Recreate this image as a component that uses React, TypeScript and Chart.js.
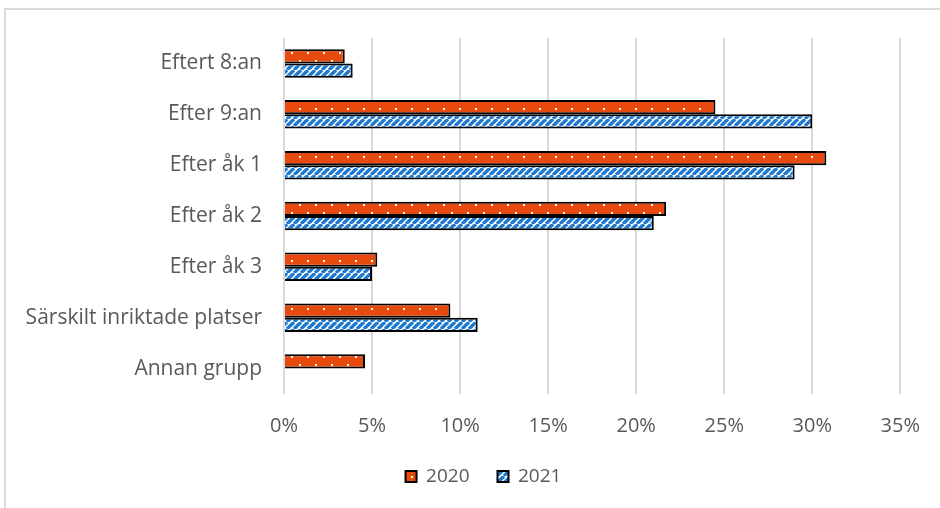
import React, { useEffect, useRef } from "react";
import { Chart, registerables } from "chart.js";

Chart.register(...registerables);

const categories = [
  "Eftert 8:an",
  "Efter 9:an",
  "Efter åk 1",
  "Efter åk 2",
  "Efter åk 3",
  "Särskilt inriktade platser",
  "Annan grupp",
];
const series2020 = [3.45, 24.5, 30.8, 21.7, 5.3, 9.45, 4.6];
const series2021 = [3.9, 30.0, 29.0, 21.0, 5.0, 11.0, null];
const seriesNames = ["2020", "2021"];
const xTicksMax = 35;
const xTickStep = 5;

function dotPattern(): CanvasPattern | string {
  const c = document.createElement("canvas");
  c.width = 16;
  c.height = 16;
  const ctx = c.getContext("2d");
  if (!ctx) return "#E8490F";
  ctx.fillStyle = "#E8490F";
  ctx.fillRect(0, 0, 16, 16);
  ctx.fillStyle = "#FFFFFF";
  ctx.fillRect(3, 4, 2, 2);
  ctx.fillRect(11, 12, 2, 2);
  return ctx.createPattern(c, "repeat") || "#E8490F";
}

function stripePattern(): CanvasPattern | string {
  const s = 7;
  const c = document.createElement("canvas");
  c.width = s;
  c.height = s;
  const ctx = c.getContext("2d");
  if (!ctx) return "#2E7FD0";
  ctx.fillStyle = "#FFFFFF";
  ctx.fillRect(0, 0, s, s);
  ctx.strokeStyle = "#1F78CF";
  ctx.lineWidth = 3.4;
  for (let k = -1; k <= 1; k++) {
    ctx.beginPath();
    ctx.moveTo(k * s, s);
    ctx.lineTo(k * s + s, 0);
    ctx.stroke();
  }
  return ctx.createPattern(c, "repeat") || "#2E7FD0";
}

const legendShift = {
  id: "legendShift",
  afterLayout(chart: any) {
    const lg = chart.legend;
    if (lg) {
      lg.left += 32;
      lg.right += 32;
    }
  },
};

export default function App() {
  const ref = useRef<HTMLCanvasElement>(null);

  useEffect(() => {
    if (!ref.current) return;
    const fontFamily = "'Open Sans', 'Noto Sans', sans-serif";
    const chart = new Chart(ref.current, {
      type: "bar",
      data: {
        labels: categories,
        datasets: [
          {
            label: seriesNames[0],
            data: series2020,
            backgroundColor: dotPattern() as any,
            borderColor: "#000000",
            borderWidth: 2,
            categoryPercentage: 0.56,
            barPercentage: 1,
          },
          {
            label: seriesNames[1],
            data: series2021 as any,
            backgroundColor: stripePattern() as any,
            borderColor: "#000000",
            borderWidth: 2,
            categoryPercentage: 0.56,
            barPercentage: 1,
          },
        ],
      },
      plugins: [legendShift],
      options: {
        indexAxis: "y",
        animation: false,
        responsive: false,
        maintainAspectRatio: false,
        layout: { padding: { top: 38, right: 37, bottom: 12, left: 0 } },
        plugins: {
          tooltip: { enabled: false },
          legend: {
            position: "bottom",
            labels: {
              color: "#595959",
              font: { family: fontFamily, size: 19 },
              boxWidth: 11,
              boxHeight: 11,
              padding: 28,
            },
          },
        },
        scales: {
          x: {
            min: 0,
            max: xTicksMax,
            grid: { color: "#D9D9D9", lineWidth: 2, drawTicks: false },
            border: { display: false },
            ticks: {
              stepSize: xTickStep,
              color: "#595959",
              padding: 20,
              font: { family: fontFamily, size: 20 },
              callback: (v: any) => `${v}%`,
            },
            afterFit: (s: any) => {
              s.height = 45;
            },
          },
          y: {
            grid: { display: false, drawTicks: false },
            border: { display: false },
            ticks: {
              color: "#595959",
              padding: 22,
              font: { family: fontFamily, size: 21 },
            },
            afterFit: (s: any) => {
              s.width = 284;
            },
          },
        },
      },
    });
    return () => chart.destroy();
  }, []);

  return (
    <div style={{ position: "absolute", left: 0, top: 0, width: 940, height: 508, background: "#fff" }}>
      <div
        style={{
          position: "absolute",
          left: 4,
          top: 8,
          width: 936,
          height: 500,
          borderTop: "2px solid #D9D9D9",
          borderLeft: "2px solid #D9D9D9",
          boxSizing: "border-box",
        }}
      />
      <canvas ref={ref} width={940} height={508} style={{ position: "absolute", left: 0, top: 0 }} />
    </div>
  );
}
